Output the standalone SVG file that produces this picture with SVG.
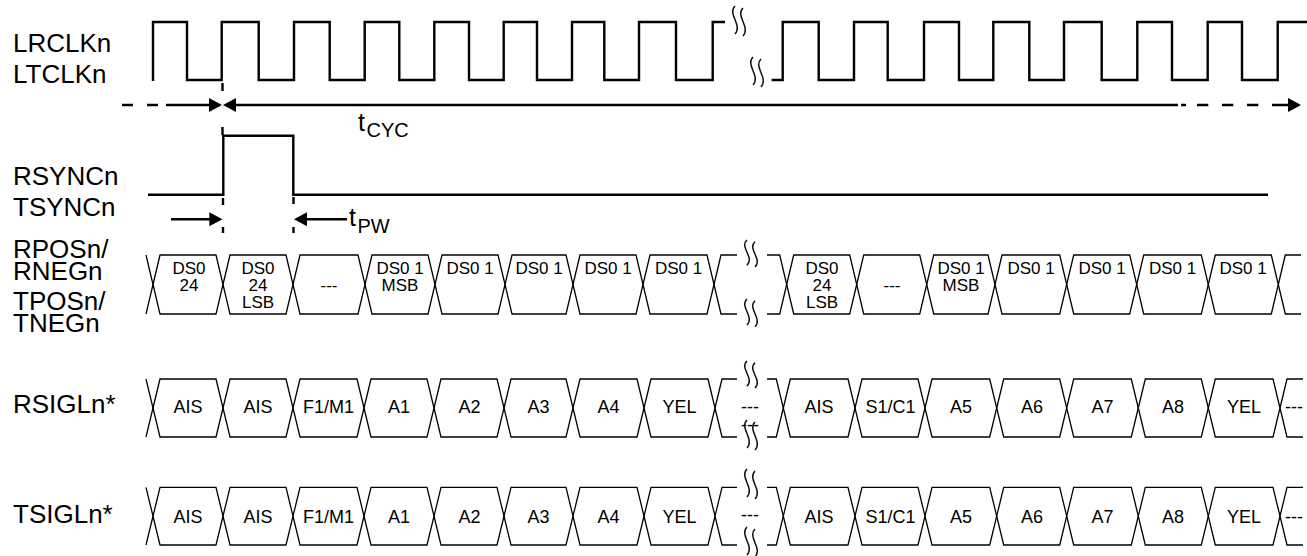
<svg xmlns="http://www.w3.org/2000/svg" xmlns:xlink="http://www.w3.org/1999/xlink" width="1307" height="556" viewBox="0 0 1307 556">
<style>
text{font-family:"Liberation Sans",Arial,sans-serif;fill:#000}
.lbl{font-size:26px}
.cell{font-size:18px;text-anchor:middle}
.dcell{font-size:17px;text-anchor:middle}
.wave{fill:none;stroke:#000;stroke-width:2.4;stroke-linejoin:miter}
.hex{fill:none;stroke:#000;stroke-width:1.3}
.sq path{fill:none;stroke:#111;stroke-width:1.5}
.dl{fill:none;stroke:#000;stroke-width:2.4}
.ah{fill:#000}
</style>
<defs>
<g id="sq" class="sq"><path d="M4,0 C-4,8 12,19 4,28"/><path d="M12,2 C4,10 20,21 12,30"/></g>
</defs>
<rect width="1307" height="556" fill="#fff"/>

<g id="labels">
<text class="lbl" x="13" y="52">LRCLKn</text>
<text class="lbl" x="13" y="83">LTCLKn</text>
<text class="lbl" x="13" y="185">RSYNCn</text>
<text class="lbl" x="13" y="216">TSYNCn</text>
<text class="lbl" x="13" y="258">RPOSn/</text>
<text class="lbl" x="13" y="280">RNEGn</text>
<text class="lbl" x="13" y="310">TPOSn/</text>
<text class="lbl" x="13" y="332">TNEGn</text>
<text class="lbl" x="13" y="413">RSIGLn*</text>
<text class="lbl" x="13" y="523">TSIGLn*</text>
</g>

<g id="clock">
<path class="wave" d="M153,81 V22 H187 V80 H221.7 V22 H258.7 V80 H294 V22 H329.7 V80 H364.7 V22 H399.3 V80 H434.3 V22 H469 V80 H503.7 V22 H537 V80 H572 V22 H604.3 V80 H639 V22 H676 V80 H712.7 V22 H725"/>
<path class="wave" d="M771.7,80 H782.7 V22 H818.7 V80 H854 V22 H887.7 V80 H924 V22 H959 V80 H993.3 V22 H1029.3 V80 H1064 V22 H1101.7 V80 H1137.3 V22 H1172 V80 H1207.7 V22 H1242 V80 H1277.7 V22 H1307"/>
<use xlink:href="#sq" href="#sq" transform="translate(731,6)"/>
<use xlink:href="#sq" href="#sq" transform="translate(749,57)"/>
</g>

<g id="sync">
<path class="wave" d="M148,194.7 H223.3 V135.7 H293.3 V194.7 H1268"/>
</g>

<g id="connectors">
<path class="dl" d="M122,105 H133 M147,105 H158 M166,105 H210"/>
<polygon class="ah" points="222,105 209,98 209,112"/>
<polygon class="ah" points="223,105 236,98 236,112"/>
<path class="dl" d="M235,105 H1178 M1181,105 H1186 M1197,105 H1208.3 M1222,105 H1233.3 M1247,105 H1258.3 M1272,105 H1283.3 M1283,105 H1289"/>
<polygon class="ah" points="1301,105 1288,98 1288,112"/>
<path class="dl" d="M222.5,83 V91 M222.5,127 V135"/>
<path class="dl" d="M223,198 V205 M223,227 V233 M293.5,197 V204 M293.5,227 V233"/>
<path class="dl" d="M171,219.3 H210"/>
<polygon class="ah" points="222.5,219.3 209.3,212.3 209.3,226.3"/>
<polygon class="ah" points="294,219.3 307,212.3 307,226.3"/>
<path class="dl" d="M306,219.3 H347"/>
</g>

<g id="timing-labels">
<text x="358" y="131" style="font-size:25px">t</text>
<text x="366.5" y="137" style="font-size:20px">CYC</text>
<text x="349" y="226" style="font-size:25px">t</text>
<text x="357.5" y="233" style="font-size:20px">PW</text>
</g>

<g id="data">
<path class="hex" d="M146,255 L153,284.5 L146,314"/>
<polygon class="hex" points="153,284.5 160,255 216,255 223,284.5 216,314 160,314"/>
<polygon class="hex" points="223,284.5 230,255 286,255 293,284.5 286,314 230,314"/>
<polygon class="hex" points="293,284.5 300,255 358,255 365,284.5 358,314 300,314"/>
<polygon class="hex" points="365,284.5 372,255 428,255 435,284.5 428,314 372,314"/>
<polygon class="hex" points="435,284.5 442,255 498,255 505,284.5 498,314 442,314"/>
<polygon class="hex" points="505,284.5 512,255 566,255 573,284.5 566,314 512,314"/>
<polygon class="hex" points="573,284.5 580,255 636,255 643,284.5 636,314 580,314"/>
<polygon class="hex" points="643,284.5 650,255 707,255 714,284.5 707,314 650,314"/>
<path class="hex" d="M714,284.5 L721,255 H737 M714,284.5 L721,314 H737"/>
<path class="hex" d="M767,255 H779.7 L786.7,284.5 L779.7,314 H767"/>
<polygon class="hex" points="786.7,284.5 793.7,255 849.7,255 856.7,284.5 849.7,314 793.7,314"/>
<polygon class="hex" points="856.7,284.5 863.7,255 919.7,255 926.7,284.5 919.7,314 863.7,314"/>
<polygon class="hex" points="926.7,284.5 933.7,255 988,255 995,284.5 988,314 933.7,314"/>
<polygon class="hex" points="995,284.5 1002,255 1059.7,255 1066.7,284.5 1059.7,314 1002,314"/>
<polygon class="hex" points="1066.7,284.5 1073.7,255 1129.7,255 1136.7,284.5 1129.7,314 1073.7,314"/>
<polygon class="hex" points="1136.7,284.5 1143.7,255 1201.3,255 1208.3,284.5 1201.3,314 1143.7,314"/>
<polygon class="hex" points="1208.3,284.5 1215.3,255 1271.3,255 1278.3,284.5 1271.3,314 1215.3,314"/>
<path class="hex" d="M1278.3,284.5 L1285.3,255 H1301 M1278.3,284.5 L1285.3,314 H1301"/>
<use xlink:href="#sq" href="#sq" transform="translate(743,240) scale(1,0.9)"/>
<use xlink:href="#sq" href="#sq" transform="translate(743,299) scale(1,0.93)"/>
<text class="dcell" x="189" y="273.5">DS0</text><text class="dcell" x="189" y="290.5">24</text>
<text class="dcell" x="258" y="273.5">DS0</text><text class="dcell" x="258" y="290.5">24</text><text class="dcell" x="258" y="308">LSB</text>
<text class="dcell" x="329" y="290.5">---</text>
<text class="dcell" x="400" y="273.5">DS0 1</text><text class="dcell" x="400" y="290.5">MSB</text>
<text class="dcell" x="470" y="273.5">DS0 1</text>
<text class="dcell" x="539" y="273.5">DS0 1</text>
<text class="dcell" x="608" y="273.5">DS0 1</text>
<text class="dcell" x="678.5" y="273.5">DS0 1</text>
<text class="dcell" x="822" y="273.5">DS0</text><text class="dcell" x="822" y="290.5">24</text><text class="dcell" x="822" y="308">LSB</text>
<text class="dcell" x="892" y="290.5">---</text>
<text class="dcell" x="961" y="273.5">DS0 1</text><text class="dcell" x="961" y="290.5">MSB</text>
<text class="dcell" x="1031" y="273.5">DS0 1</text>
<text class="dcell" x="1102" y="273.5">DS0 1</text>
<text class="dcell" x="1172.5" y="273.5">DS0 1</text>
<text class="dcell" x="1243" y="273.5">DS0 1</text>
</g>

<g id="rsigl">
<path class="hex" d="M146,379 L153,408 L146,437"/>
<polygon class="hex" points="153,408 160,379 216,379 223,408 216,437 160,437"/>
<polygon class="hex" points="223,408 230,379 286,379 293,408 286,437 230,437"/>
<polygon class="hex" points="293,408 300,379 357,379 364,408 357,437 300,437"/>
<polygon class="hex" points="364,408 371,379 427,379 434,408 427,437 371,437"/>
<polygon class="hex" points="434,408 441,379 497,379 504,408 497,437 441,437"/>
<polygon class="hex" points="504,408 511,379 566,379 573,408 566,437 511,437"/>
<polygon class="hex" points="573,408 580,379 637,379 644,408 637,437 580,437"/>
<polygon class="hex" points="644,408 651,379 708,379 715,408 708,437 651,437"/>
<path class="hex" d="M715,408 L722,379 H737 M715,408 L722,437 H737"/>
<path class="hex" d="M767,379 H776.3 L783.3,408 L776.3,437 H767"/>
<polygon class="hex" points="783.3,408 790.3,379 848,379 855,408 848,437 790.3,437"/>
<polygon class="hex" points="855,408 862,379 918,379 925,408 918,437 862,437"/>
<polygon class="hex" points="925,408 932,379 989.7,379 996.7,408 989.7,437 932,437"/>
<polygon class="hex" points="996.7,408 1003.7,379 1059.7,379 1066.7,408 1059.7,437 1003.7,437"/>
<polygon class="hex" points="1066.7,408 1073.7,379 1131.3,379 1138.3,408 1131.3,437 1073.7,437"/>
<polygon class="hex" points="1138.3,408 1145.3,379 1201.3,379 1208.3,408 1201.3,437 1145.3,437"/>
<polygon class="hex" points="1208.3,408 1215.3,379 1273,379 1280,408 1273,437 1215.3,437"/>
<path class="hex" d="M1280,408 L1287,379 H1303 M1280,408 L1287,437 H1303"/>
<text class="cell" x="750" y="413">---</text>
<text class="cell" x="750" y="431">---</text>
<use xlink:href="#sq" href="#sq" transform="translate(743,361) scale(1,0.9)"/>
<use xlink:href="#sq" href="#sq" transform="translate(743,420)"/>
<text class="cell" x="188" y="413.3">AIS</text>
<text class="cell" x="258" y="413.3">AIS</text>
<text class="cell" x="328.5" y="413.3">F1/M1</text>
<text class="cell" x="399" y="413.3">A1</text>
<text class="cell" x="469.5" y="413.3">A2</text>
<text class="cell" x="538.5" y="413.3">A3</text>
<text class="cell" x="608.5" y="413.3">A4</text>
<text class="cell" x="679.5" y="413.3">YEL</text>
<text class="cell" x="819" y="413.3">AIS</text>
<text class="cell" x="890.5" y="413.3">S1/C1</text>
<text class="cell" x="961" y="413.3">A5</text>
<text class="cell" x="1032" y="413.3">A6</text>
<text class="cell" x="1102.5" y="413.3">A7</text>
<text class="cell" x="1173" y="413.3">A8</text>
<text class="cell" x="1244" y="413.3">YEL</text>
<text x="1285" y="413.3" style="font-size:18px">---</text>
</g>

<g id="tsigl">
<path class="hex" d="M146,487.3 L153,516.2 L146,545"/>
<polygon class="hex" points="153,516.2 160,487.3 216,487.3 223,516.2 216,545 160,545"/>
<polygon class="hex" points="223,516.2 230,487.3 286,487.3 293,516.2 286,545 230,545"/>
<polygon class="hex" points="293,516.2 300,487.3 357,487.3 364,516.2 357,545 300,545"/>
<polygon class="hex" points="364,516.2 371,487.3 427,487.3 434,516.2 427,545 371,545"/>
<polygon class="hex" points="434,516.2 441,487.3 497,487.3 504,516.2 497,545 441,545"/>
<polygon class="hex" points="504,516.2 511,487.3 566,487.3 573,516.2 566,545 511,545"/>
<polygon class="hex" points="573,516.2 580,487.3 637,487.3 644,516.2 637,545 580,545"/>
<polygon class="hex" points="644,516.2 651,487.3 708,487.3 715,516.2 708,545 651,545"/>
<path class="hex" d="M715,516.2 L722,487.3 H737 M715,516.2 L722,545 H737"/>
<path class="hex" d="M767,487.3 H776.3 L783.3,516.2 L776.3,545 H767"/>
<polygon class="hex" points="783.3,516.2 790.3,487.3 848,487.3 855,516.2 848,545 790.3,545"/>
<polygon class="hex" points="855,516.2 862,487.3 918,487.3 925,516.2 918,545 862,545"/>
<polygon class="hex" points="925,516.2 932,487.3 989.7,487.3 996.7,516.2 989.7,545 932,545"/>
<polygon class="hex" points="996.7,516.2 1003.7,487.3 1059.7,487.3 1066.7,516.2 1059.7,545 1003.7,545"/>
<polygon class="hex" points="1066.7,516.2 1073.7,487.3 1131.3,487.3 1138.3,516.2 1131.3,545 1073.7,545"/>
<polygon class="hex" points="1138.3,516.2 1145.3,487.3 1201.3,487.3 1208.3,516.2 1201.3,545 1145.3,545"/>
<polygon class="hex" points="1208.3,516.2 1215.3,487.3 1273,487.3 1280,516.2 1273,545 1215.3,545"/>
<path class="hex" d="M1280,516.2 L1287,487.3 H1303 M1280,516.2 L1287,545 H1303"/>
<text class="cell" x="750" y="521">---</text>
<use xlink:href="#sq" href="#sq" transform="translate(743,469)"/>
<use xlink:href="#sq" href="#sq" transform="translate(743,527)"/>
<text class="cell" x="188" y="523.3">AIS</text>
<text class="cell" x="258" y="523.3">AIS</text>
<text class="cell" x="328.5" y="523.3">F1/M1</text>
<text class="cell" x="399" y="523.3">A1</text>
<text class="cell" x="469.5" y="523.3">A2</text>
<text class="cell" x="538.5" y="523.3">A3</text>
<text class="cell" x="608.5" y="523.3">A4</text>
<text class="cell" x="679.5" y="523.3">YEL</text>
<text class="cell" x="819" y="523.3">AIS</text>
<text class="cell" x="890.5" y="523.3">S1/C1</text>
<text class="cell" x="961" y="523.3">A5</text>
<text class="cell" x="1032" y="523.3">A6</text>
<text class="cell" x="1102.5" y="523.3">A7</text>
<text class="cell" x="1173" y="523.3">A8</text>
<text class="cell" x="1244" y="523.3">YEL</text>
<text x="1285" y="523.3" style="font-size:18px">---</text>
</g>
</svg>
